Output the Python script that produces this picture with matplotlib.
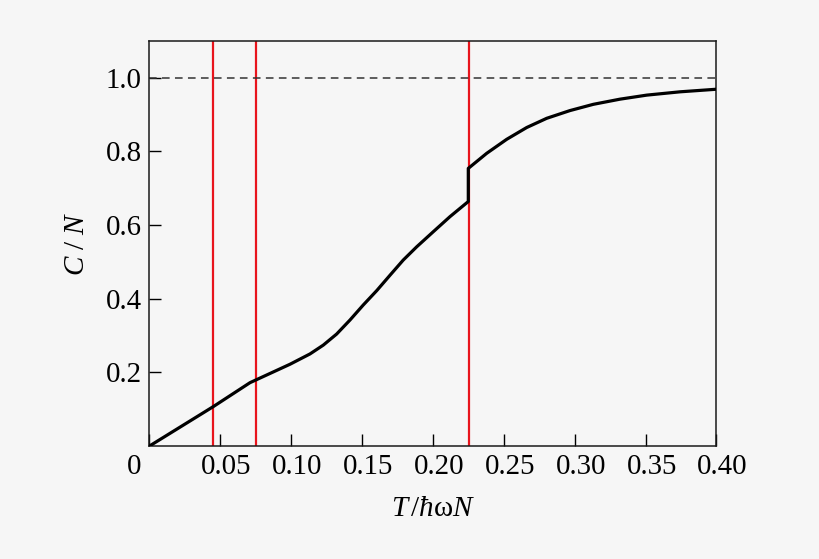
import matplotlib
matplotlib.use("Agg")
import matplotlib.pyplot as plt
import matplotlib.transforms as mtransforms

plt.rcParams['font.family'] = ['Liberation Serif', 'DejaVu Serif']
plt.rcParams['mathtext.fontset'] = 'custom'
plt.rcParams['mathtext.rm'] = 'Liberation Serif'
plt.rcParams['mathtext.it'] = 'Liberation Serif:italic'
plt.rcParams['mathtext.bf'] = 'Liberation Serif:bold'

# data
T_low = [0.0, 0.045, 0.0709, 0.0850, 0.0991, 0.1132, 0.1226, 0.1320, 0.1414,
         0.1508, 0.1603, 0.1697, 0.1790, 0.1885, 0.2002, 0.2120, 0.2249]
C_low = [0.0, 0.107, 0.172, 0.197, 0.222, 0.250, 0.274, 0.304, 0.342,
         0.383, 0.422, 0.464, 0.505, 0.541, 0.582, 0.623, 0.664]
T_high = [0.2249, 0.2379, 0.2520, 0.2661, 0.2802, 0.2966, 0.3131, 0.3319,
          0.3508, 0.3743, 0.40]
C_high = [0.754, 0.795, 0.833, 0.865, 0.890, 0.911, 0.928, 0.942,
          0.953, 0.962, 0.969]
T_marks = [0.045, 0.0751, 0.2251]
C_limit = 1.0

x_ticks = [0.0, 0.05, 0.10, 0.15, 0.20, 0.25, 0.30, 0.35, 0.40]
x_labels = ['0', '0.05', '0.10', '0.15', '0.20', '0.25', '0.30', '0.35', '0.40']
y_ticks = [0.2, 0.4, 0.6, 0.8, 1.0]
y_labels = ['0.2', '0.4', '0.6', '0.8', '1.0']

bg = '#f6f6f6'
fig = plt.figure(figsize=(8.2, 5.59), dpi=100, facecolor=bg)
ax = fig.add_axes([149.5 / 820, 1 - 446 / 559, 567 / 820, 405 / 559], facecolor=bg)

for t in T_marks:
    ax.axvline(t, color='#e8141c', lw=1.6, zorder=2)
ax.axhline(C_limit, color='#333333', lw=1.1, ls=(0, (5, 3.5)), zorder=2)
ax.plot(T_low + T_high, C_low + C_high, color='black', lw=2.3, zorder=3,
        solid_joinstyle='round')

ax.set_xlim(0, 0.40)
ax.set_ylim(0, 1.1)
ax.set_xticks(x_ticks)
ax.set_xticklabels(x_labels)
ax.set_yticks(y_ticks)
ax.set_yticklabels(y_labels)
ax.tick_params(axis='both', direction='in', length=8.5, width=1.0,
               labelsize=20.8, color='black', top=False, right=False)
ax.tick_params(axis='x', pad=5.5)
ax.tick_params(axis='y', pad=5.5)

for i, lab in enumerate(ax.get_xticklabels()):
    dx_px = -15 if i == 0 else 6
    lab.set_transform(lab.get_transform() +
                      mtransforms.ScaledTranslation(dx_px / 100, 0, fig.dpi_scale_trans))

for sp in ax.spines.values():
    sp.set_linewidth(1.1)
    sp.set_color('#1a1a1a')

ax.set_xlabel(r'$T\,/ħ\mathrm{ω}N$', fontsize=21, labelpad=12)
ax.set_ylabel(r'$C\ /\ N$', fontsize=21, labelpad=11)

fig.savefig('out.png', dpi=100, facecolor=bg)
